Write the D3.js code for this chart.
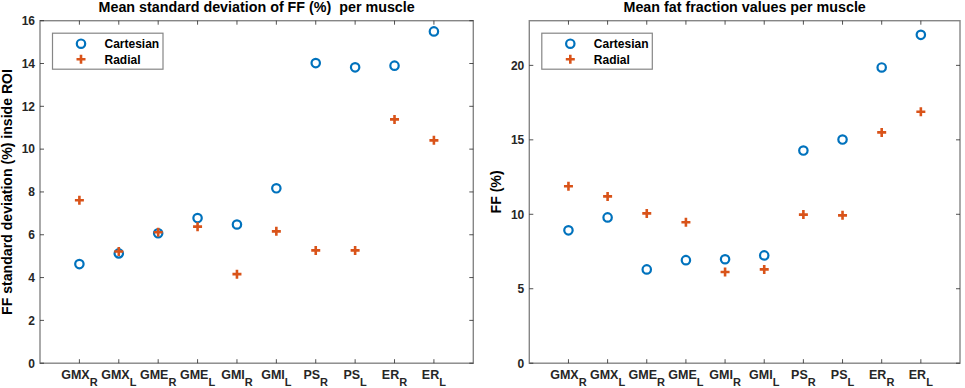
<!DOCTYPE html>
<html>
<head>
<meta charset="utf-8">
<script src="https://cdn.jsdelivr.net/npm/d3@7"></script>
<style>
  body { margin: 0; background: #fff; }
  svg { display: block; }
  text { font-family: "Liberation Sans", Arial, Helvetica, sans-serif; font-weight: bold; white-space: pre; }
</style>
</head>
<body>
<svg id="chart" width="965" height="388"></svg>
<script>
// ---- data ----
const muscles = ["GMX", "GMX", "GME", "GME", "GMI", "GMI", "PS", "PS", "ER", "ER"];
const sides   = ["R", "L", "R", "L", "R", "L", "R", "L", "R", "L"];
const seriesNames = ["Cartesian", "Radial"];

const sdCartesian = [4.63, 5.13, 6.07, 6.78, 6.48, 8.17, 14.02, 13.82, 13.9, 15.5];
const sdRadial    = [7.61, 5.22, 6.12, 6.38, 4.16, 6.16, 5.27, 5.27, 11.39, 10.41];
const ffCartesian = [8.92, 9.79, 6.3, 6.92, 6.98, 7.24, 14.28, 15.02, 19.86, 22.05];
const ffRadial    = [11.88, 11.2, 10.06, 9.47, 6.12, 6.3, 9.98, 9.93, 15.5, 16.89];

const sdTicks = [0, 2, 4, 6, 8, 10, 12, 14, 16];
const ffTicks = [0, 5, 10, 15, 20];

// ---- style ----
const BLUE = "#0072BD", ORANGE = "#D95319";
const AXIS = "#868686", TXT = "#262626";

const svg = d3.select("#chart");

function panel(opts) {
  const {left, right, top, bottom, yMax, yTicks, cart, rad, title, ylabel, ylabelX} = opts;
  const g = svg.append("g");
  const idx = d3.range(1, muscles.length + 1);
  const x = d3.scaleLinear().domain([0, muscles.length + 1]).range([left, right]);
  const y = d3.scaleLinear().domain([0, yMax]).range([bottom, top]);
  const tl = 4;

  // box
  g.append("rect").attr("x", left).attr("y", top)
    .attr("width", right - left).attr("height", bottom - top)
    .attr("fill", "none").attr("stroke", AXIS).attr("stroke-width", 1.4);

  // x ticks (bottom & top, inward)
  idx.forEach(i => {
    g.append("line").attr("x1", x(i)).attr("x2", x(i)).attr("y1", bottom).attr("y2", bottom - tl)
      .attr("stroke", TXT).attr("stroke-width", 0.8);
    g.append("line").attr("x1", x(i)).attr("x2", x(i)).attr("y1", top).attr("y2", top + tl)
      .attr("stroke", TXT).attr("stroke-width", 0.8);
  });
  // y ticks (left & right, inward)
  yTicks.forEach(t => {
    g.append("line").attr("x1", left).attr("x2", left + tl).attr("y1", y(t)).attr("y2", y(t))
      .attr("stroke", TXT).attr("stroke-width", 0.8);
    g.append("line").attr("x1", right).attr("x2", right - tl).attr("y1", y(t)).attr("y2", y(t))
      .attr("stroke", TXT).attr("stroke-width", 0.8);
    g.append("text").attr("x", left - 5).attr("y", y(t)).attr("dy", "0.36em")
      .attr("text-anchor", "end").attr("font-size", 12).attr("fill", TXT).text(t);
  });

  // x tick labels with subscripts
  idx.forEach((i, k) => {
    const t = g.append("text").attr("x", x(i)).attr("y", bottom + 16)
      .attr("text-anchor", "middle").attr("font-size", 12.5).attr("fill", TXT);
    t.append("tspan").text(muscles[k]);
    t.append("tspan").attr("dy", 7).attr("font-size", 11).text(sides[k]);
  });

  // title
  g.append("text").attr("x", (left + right) / 2).attr("y", 12)
    .attr("text-anchor", "middle").attr("font-size", 14.3).attr("fill", "#000").text(title);

  // y label
  g.append("text").attr("transform", `translate(${ylabelX},${(top + bottom) / 2}) rotate(-90)`)
    .attr("text-anchor", "middle").attr("font-size", 14.1).attr("fill", "#000").text(ylabel);

  // data markers
  g.append("g").selectAll("circle").data(cart).join("circle")
    .attr("cx", (d, i) => x(i + 1)).attr("cy", d => y(d)).attr("r", 4.2)
    .attr("fill", "none").attr("stroke", BLUE).attr("stroke-width", 2.2);
  g.append("g").selectAll("path").data(rad).join("path")
    .attr("d", (d, i) => `M${x(i + 1) - 4.5},${y(d)}h9M${x(i + 1)},${y(d) - 4.5}v9`)
    .attr("stroke", ORANGE).attr("stroke-width", 2.6).attr("fill", "none");

  // legend
  const lg = g.append("g");
  const lx = left + 12.5, ly = top + 12.5, lw = 110.5, lh = 36;
  lg.append("rect").attr("x", lx).attr("y", ly).attr("width", lw).attr("height", lh)
    .attr("fill", "#fff").attr("stroke", AXIS).attr("stroke-width", 1.2);
  const rows = [ly + 10.5, ly + 26];
  lg.append("circle").attr("cx", lx + 28.5).attr("cy", rows[0]).attr("r", 4.2)
    .attr("fill", "none").attr("stroke", BLUE).attr("stroke-width", 2.2);
  lg.append("path").attr("d", `M${lx + 24},${rows[1]}h9M${lx + 28.5},${rows[1] - 4.5}v9`)
    .attr("stroke", ORANGE).attr("stroke-width", 2.6);
  seriesNames.forEach((n, k) => {
    lg.append("text").attr("x", lx + 52).attr("y", rows[k]).attr("dy", "0.36em")
      .attr("font-size", 12).attr("fill", "#000").text(n);
  });
}

panel({
  left: 40, right: 473.3, top: 20.7, bottom: 363.2, yMax: 16, yTicks: sdTicks,
  cart: sdCartesian, rad: sdRadial,
  title: "Mean standard deviation of FF (%)  per muscle",
  ylabel: "FF standard deviation (%) inside ROI", ylabelX: 12
});
panel({
  left: 529.3, right: 960, top: 20.7, bottom: 363.2, yMax: 23, yTicks: ffTicks,
  cart: ffCartesian, rad: ffRadial,
  title: "Mean fat fraction values per muscle",
  ylabel: "FF (%)", ylabelX: 501
});
</script>
</body>
</html>
